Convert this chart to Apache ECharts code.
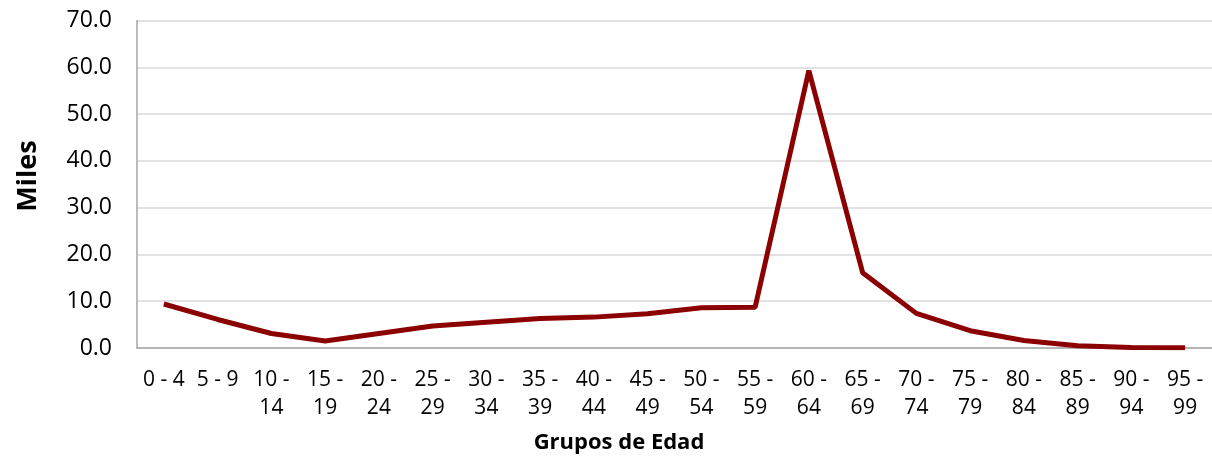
<!DOCTYPE html>
<html><head><meta charset="utf-8">
<script src="https://cdn.jsdelivr.net/npm/echarts@6/dist/echarts.min.js"></script>
<style>html,body{margin:0;padding:0;background:#fff}#c{width:1212px;height:459px}</style>
</head><body><div id="c"></div>
<script>
const categories = ["0 - 4","5 - 9","10 - 14","15 - 19","20 - 24","25 - 29","30 - 34","35 - 39","40 - 44","45 - 49","50 - 54","55 - 59","60 - 64","65 - 69","70 - 74","75 - 79","80 - 84","85 - 89","90 - 94","95 - 99"];
const values = [9.4, 6.1, 3.1, 1.5, 3.1, 4.7, 5.5, 6.3, 6.6, 7.3, 8.6, 8.7, 59.3, 16.1, 7.4, 3.7, 1.6, 0.5, 0.1, 0.05];
const yTitle = "Miles";
const xTitle = "Grupos de Edad";
const FONT = "'Open Sans', sans-serif";
const chart = echarts.init(document.getElementById('c'), null, {renderer:'canvas'});
chart.setOption({
  animation:false,
  grid:{left:137, right:-3, top:20.5, bottom:111, containLabel:false},
  graphic:[
    {type:'text', x:28, y:176, rotation:Math.PI/2, style:{text:yTitle, fill:'#000', font:"bold 27px 'Open Sans', sans-serif", align:'center', verticalAlign:'middle'}},
    {type:'text', x:619, y:443, style:{text:xTitle, fill:'#000', font:"bold 22px 'Open Sans', sans-serif", align:'center', verticalAlign:'middle'}}
  ],
  xAxis:{type:'category', data:categories, boundaryGap:true,
    axisLine:{lineStyle:{color:'#a6a6a6', width:1.5}},
    axisTick:{show:false},
    axisLabel:{interval:0, color:'#000', fontFamily:FONT, fontSize:21, margin:18, lineHeight:28,
      formatter:function(v){ const p=v.split(' - '); return p[0].length>1 ? p[0]+' -\n'+p[1] : v; }}
  },
  yAxis:{type:'value', min:0, max:70, interval:10,
    axisLine:{show:true, lineStyle:{color:'#a6a6a6', width:1.5}},
    axisTick:{show:false},
    splitLine:{lineStyle:{color:'#d9d9d9', width:1.5}},
    axisLabel:{color:'#000', fontFamily:FONT, fontSize:23, margin:25, formatter:v=>v.toFixed(1)}
  },
  series:[{type:'line', data:values, symbol:'none', lineStyle:{color:'#8b0000', width:5}, itemStyle:{color:'#8b0000'}}]
});
</script></body></html>
